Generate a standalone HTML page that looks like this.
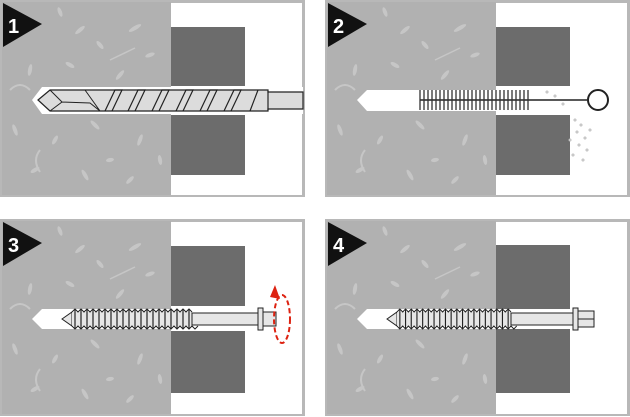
<!DOCTYPE html>
<html><head><meta charset="utf-8"><style>
html,body{margin:0;padding:0;background:#fff;width:630px;height:417px;overflow:hidden}
svg{display:block}
text{font-family:"Liberation Sans",sans-serif;font-weight:bold;fill:#fff}
</style></head><body>
<svg width="630" height="417" viewBox="0 0 630 417" xmlns="http://www.w3.org/2000/svg">
<defs>
<g id="spk" fill="#c6c6c6">
<ellipse cx="20" cy="20" rx="2" ry="6" transform="rotate(30 20 20)"/>
<ellipse cx="60" cy="12" rx="2" ry="5" transform="rotate(-20 60 12)"/>
<ellipse cx="80" cy="30" rx="2" ry="6" transform="rotate(50 80 30)"/>
<ellipse cx="135" cy="28" rx="2" ry="7" transform="rotate(60 135 28)"/>
<ellipse cx="100" cy="45" rx="2" ry="5" transform="rotate(-40 100 45)"/>
<ellipse cx="150" cy="55" rx="2" ry="5" transform="rotate(70 150 55)"/>
<ellipse cx="30" cy="70" rx="2" ry="6" transform="rotate(10 30 70)"/>
<ellipse cx="70" cy="65" rx="2" ry="5" transform="rotate(-60 70 65)"/>
<ellipse cx="120" cy="75" rx="2" ry="6" transform="rotate(40 120 75)"/>
<ellipse cx="15" cy="130" rx="2" ry="6" transform="rotate(-20 15 130)"/>
<ellipse cx="55" cy="140" rx="2" ry="5" transform="rotate(30 55 140)"/>
<ellipse cx="95" cy="125" rx="2" ry="6" transform="rotate(-45 95 125)"/>
<ellipse cx="140" cy="140" rx="2" ry="6" transform="rotate(20 140 140)"/>
<ellipse cx="35" cy="170" rx="2" ry="5" transform="rotate(60 35 170)"/>
<ellipse cx="85" cy="175" rx="2" ry="6" transform="rotate(-30 85 175)"/>
<ellipse cx="130" cy="180" rx="2" ry="5" transform="rotate(45 130 180)"/>
<ellipse cx="160" cy="160" rx="2" ry="5" transform="rotate(-10 160 160)"/>
<ellipse cx="110" cy="160" rx="2" ry="4" transform="rotate(80 110 160)"/>
<path d="M40 150 q-8 10 0 22" stroke="#c6c6c6" stroke-width="2" fill="none"/>
<path d="M70 100 q10 -12 22 -2" stroke="#c6c6c6" stroke-width="2" fill="none"/>
<path d="M110 60 l25 -12" stroke="#c6c6c6" stroke-width="1.5"/>
<path d="M10 90 q10 -10 20 0" stroke="#c6c6c6" stroke-width="2" fill="none"/>
</g>
<g id="base">
<rect x="0" y="0" width="305" height="197" fill="#b8b8b8"/>
<rect x="2" y="2" width="169" height="193" fill="#b1b1b1"/>
<use href="#spk"/>
<rect x="171" y="3" width="131" height="192" fill="#fff"/>
</g>
<g id="thread">
<rect x="0" y="-7" width="120" height="14" fill="#e6e6e6"/>
<path d="M0 -7 l3 -3 l3 3 l3 -3 l3 3 l3 -3 l3 3 l3 -3 l3 3 l3 -3 l3 3 l3 -3 l3 3 l3 -3 l3 3 l3 -3 l3 3 l3 -3 l3 3 l3 -3 l3 3 l3 -3 l3 3 l3 -3 l3 3 l3 -3 l3 3 l3 -3 l3 3 l3 -3 l3 3 l3 -3 l3 3 l3 -3 l3 3 l3 -3 l3 3 l3 -3 l3 3 l3 -3 l3 3" fill="none" stroke="#222" stroke-width="1"/>
<path d="M0 7 l3 3 l3 -3 l3 3 l3 -3 l3 3 l3 -3 l3 3 l3 -3 l3 3 l3 -3 l3 3 l3 -3 l3 3 l3 -3 l3 3 l3 -3 l3 3 l3 -3 l3 3 l3 -3 l3 3 l3 -3 l3 3 l3 -3 l3 3 l3 -3 l3 3 l3 -3 l3 3 l3 -3 l3 3 l3 -3 l3 3 l3 -3 l3 3 l3 -3 l3 3 l3 -3 l3 3 l3 -3 l3 3 l3 -3" fill="none" stroke="#222" stroke-width="1"/>
<path d="M3 -10 l0 20 M9 -10 l0 20 M15 -10 l0 20 M21 -10 l0 20 M27 -10 l0 20 M33 -10 l0 20 M39 -10 l0 20 M45 -10 l0 20 M51 -10 l0 20 M57 -10 l0 20 M63 -10 l0 20 M69 -10 l0 20 M75 -10 l0 20 M81 -10 l0 20 M87 -10 l0 20 M93 -10 l0 20 M99 -10 l0 20 M105 -10 l0 20 M111 -10 l0 20 M117 -10 l0 20" stroke="#222" stroke-width="1.2"/>
</g>
</defs>

<!-- Panel 1 -->
<g transform="translate(0,0)">
<use href="#base"/>
<rect x="171" y="27" width="74" height="59" fill="#6c6c6c"/>
<rect x="171" y="115" width="74" height="60" fill="#6c6c6c"/>
<polygon points="32,100 42,87 303,87 303,114 42,114" fill="#fff"/>
<path d="M38 100 L50 90 L268 90 L268 92 L303 92 L303 109 L268 109 L268 111 L50 111 Z" fill="#dcdcdc" stroke="#222" stroke-width="1.2"/>
<path d="M50 90 L62 102 L90 103 L100 111 M62 102 L50 111 M85 90 L100 111" fill="none" stroke="#222" stroke-width="1"/>
<path d="M105 111 L115 90 L122 90 L112 111 M128 111 L138 90 L145 90 L135 111 M152 111 L162 90 L169 90 L159 111 M176 111 L186 90 L193 90 L183 111 M200 111 L210 90 L217 90 L207 111 M224 111 L234 90 L241 90 L231 111 M250 111 L258 90" fill="none" stroke="#222" stroke-width="1.2"/>
<line x1="268" y1="91" x2="268" y2="110" stroke="#222" stroke-width="1.2"/>
<polygon points="3,3 42,24 3,47" fill="#111"/>
<text x="8" y="33" font-size="20">1</text>
</g>

<!-- Panel 2 -->
<g transform="translate(325,0)">
<use href="#base"/>
<rect x="171" y="27" width="74" height="59" fill="#6c6c6c"/>
<rect x="171" y="115" width="74" height="60" fill="#6c6c6c"/>
<polygon points="32,100 42,90 250,90 250,111 42,111" fill="#fff"/>
<g fill="#fff" stroke="#bbb"><circle cx="250" cy="120" r="1"/><circle cx="256" cy="125" r="1"/><circle cx="252" cy="132" r="1"/><circle cx="260" cy="138" r="1"/><circle cx="254" cy="145" r="1"/><circle cx="262" cy="150" r="1"/><circle cx="248" cy="155" r="1"/><circle cx="258" cy="160" r="1"/><circle cx="265" cy="130" r="1"/><circle cx="245" cy="140" r="1"/><circle cx="230" cy="96" r="1"/><circle cx="238" cy="104" r="1"/><circle cx="222" cy="92" r="1"/></g>
<line x1="95" y1="100" x2="262" y2="100" stroke="#222" stroke-width="1.5"/>
<path d="M95 90 l0 20 M99 90 l0 20 M103 90 l0 20 M107 90 l0 20 M111 90 l0 20 M115 90 l0 20 M119 90 l0 20 M123 90 l0 20 M127 90 l0 20 M131 90 l0 20 M135 90 l0 20 M139 90 l0 20 M143 90 l0 20 M147 90 l0 20 M151 90 l0 20 M155 90 l0 20 M159 90 l0 20 M163 90 l0 20 M167 90 l0 20 M171 90 l0 20 M175 90 l0 20 M179 90 l0 20 M183 90 l0 20 M187 90 l0 20 M191 90 l0 20 M195 90 l0 20 M199 90 l0 20 M203 90 l0 20" stroke="#333" stroke-width="1.3"/>
<circle cx="273" cy="100" r="10" fill="#fff" stroke="#222" stroke-width="2"/>
<polygon points="3,3 42,24 3,47" fill="#111"/>
<text x="8" y="33" font-size="20">2</text>
</g>

<!-- Panel 3 -->
<g transform="translate(0,219)">
<use href="#base"/>
<rect x="171" y="27" width="74" height="60" fill="#6c6c6c"/>
<rect x="171" y="112" width="74" height="62" fill="#6c6c6c"/>
<polygon points="32,100 42,90 265,90 265,110 42,110" fill="#fff"/>
<polygon points="62,100 72,93 72,107" fill="#e6e6e6" stroke="#222"/>
<use href="#thread" transform="translate(72,100)"/>
<rect x="192" y="94" width="66" height="12" fill="#e6e6e6" stroke="#222"/>
<rect x="258" y="89" width="5" height="22" fill="#e6e6e6" stroke="#222"/>
<rect x="263" y="93" width="13" height="14" fill="#e6e6e6" stroke="#222"/>
<ellipse cx="282" cy="100" rx="8" ry="24" fill="none" stroke="#d21" stroke-width="2" stroke-dasharray="5,3"/>
<polygon points="270,78 275,66 280,80" fill="#d21"/>
<polygon points="3,3 42,24 3,47" fill="#111"/>
<text x="8" y="33" font-size="20">3</text>
</g>

<!-- Panel 4 -->
<g transform="translate(325,219)">
<use href="#base"/>
<rect x="171" y="26" width="74" height="148" fill="#6c6c6c"/>
<polygon points="32,100 42,90 250,90 250,110 42,110" fill="#fff"/>
<polygon points="62,100 72,93 72,107" fill="#e6e6e6" stroke="#222"/>
<use href="#thread" transform="translate(72,100) scale(0.95,1)"/>
<rect x="186" y="94" width="62" height="12" fill="#e6e6e6" stroke="#222"/>
<rect x="248" y="89" width="5" height="22" fill="#e6e6e6" stroke="#222"/>
<rect x="253" y="92" width="16" height="16" fill="#e6e6e6" stroke="#222"/>
<line x1="253" y1="100" x2="269" y2="100" stroke="#222"/>
<polygon points="3,3 42,24 3,47" fill="#111"/>
<text x="8" y="33" font-size="20">4</text>
</g>
</svg>
</body></html>
